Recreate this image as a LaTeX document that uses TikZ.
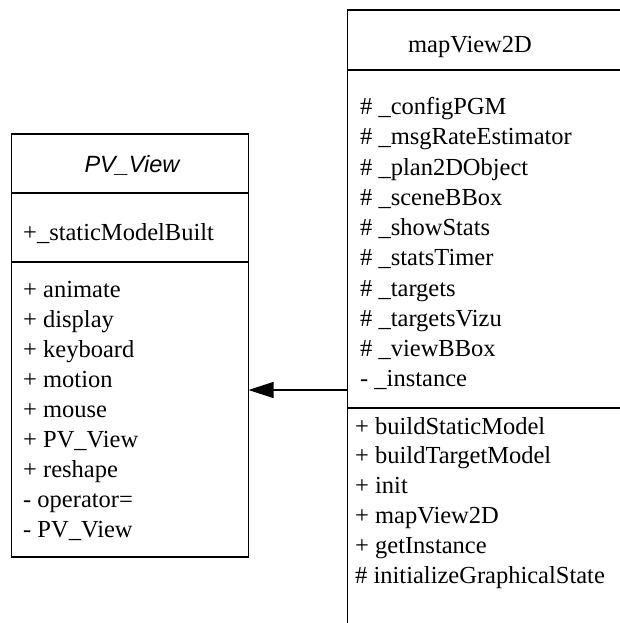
\documentclass[tikz,border=0pt]{standalone}
\usepackage{fontspec}
\setmainfont{Liberation Serif}
\newfontfamily\titlesans{Liberation Sans}
\usetikzlibrary{arrows.meta}
\begin{document}
\begin{tikzpicture}[x=1pt,y=-1pt,
  box/.style={draw, line width=1.3pt, rectangle, inner sep=0pt, outer sep=0pt, anchor=north west},
  member/.style={anchor=base west, inner sep=0pt, font=\fontsize{24.5}{29}\selectfont},
  classtitle/.style={anchor=base, inner sep=0pt},
  divider/.style={line width=1.3pt},
  inherit/.style={line width=1.2pt, -{Triangle[length=25pt,width=16pt]}}]
\useasboundingbox (0,0) rectangle (620,623);
\clip (0,0) rectangle (620,623);
% ---- PV_View class ----
\node[box, minimum width=237pt, minimum height=423pt] (pv) at (11.5,134) {};
\draw[divider] (pv.north west) ++(0,59) -- ++(237,0);
\draw[divider] (pv.north west) ++(0,128) -- ++(237,0);
\node[classtitle, font=\titlesans\itshape\fontsize{23.5}{28}\selectfont] (pvt) at (132,172) {PV\_View};
\node[member] (pva) at (23,240) {+\_staticModelBuilt};
\foreach \t [count=\i] in {+ animate, + display, + keyboard, + motion, + mouse, + PV\_View, + reshape, - operator=, - PV\_View}
  \node[member] (pvm\i) at (23,{297+30*(\i-1)}) {\t};
% ---- mapView2D class ----
\node[box, minimum width=320pt, minimum height=700pt] (mv) at (347.5,10) {};
\draw[divider] (mv.north west) ++(0,60) -- ++(320,0);
\draw[divider] (mv.north west) ++(0,398) -- ++(320,0);
\node[classtitle, font=\fontsize{24.5}{29}\selectfont] (mvt) at (470,53) {mapView2D};
\foreach \t [count=\i] in {\# \_configPGM, \# \_msgRateEstimator, \# \_plan2DObject, \# \_sceneBBox, \# \_showStats, \# \_statsTimer, \# \_targets, \# \_targetsVizu, \# \_viewBBox, - \_instance}
  \node[member] (mva\i) at (360,{114.5+30.25*(\i-1)}) {\t};
\foreach \t [count=\i] in {+ buildStaticModel, + buildTargetModel, + init, + mapView2D, + getInstance, \# initializeGraphicalState}
  \node[member] (mvm\i) at (355,{434+29.8*(\i-1)}) {\t};
% ---- generalization ----
\coordinate (ay) at (0,390);
\draw[inherit] (mv.west |- ay) -- (pv.east |- ay);
\end{tikzpicture}
\end{document}
